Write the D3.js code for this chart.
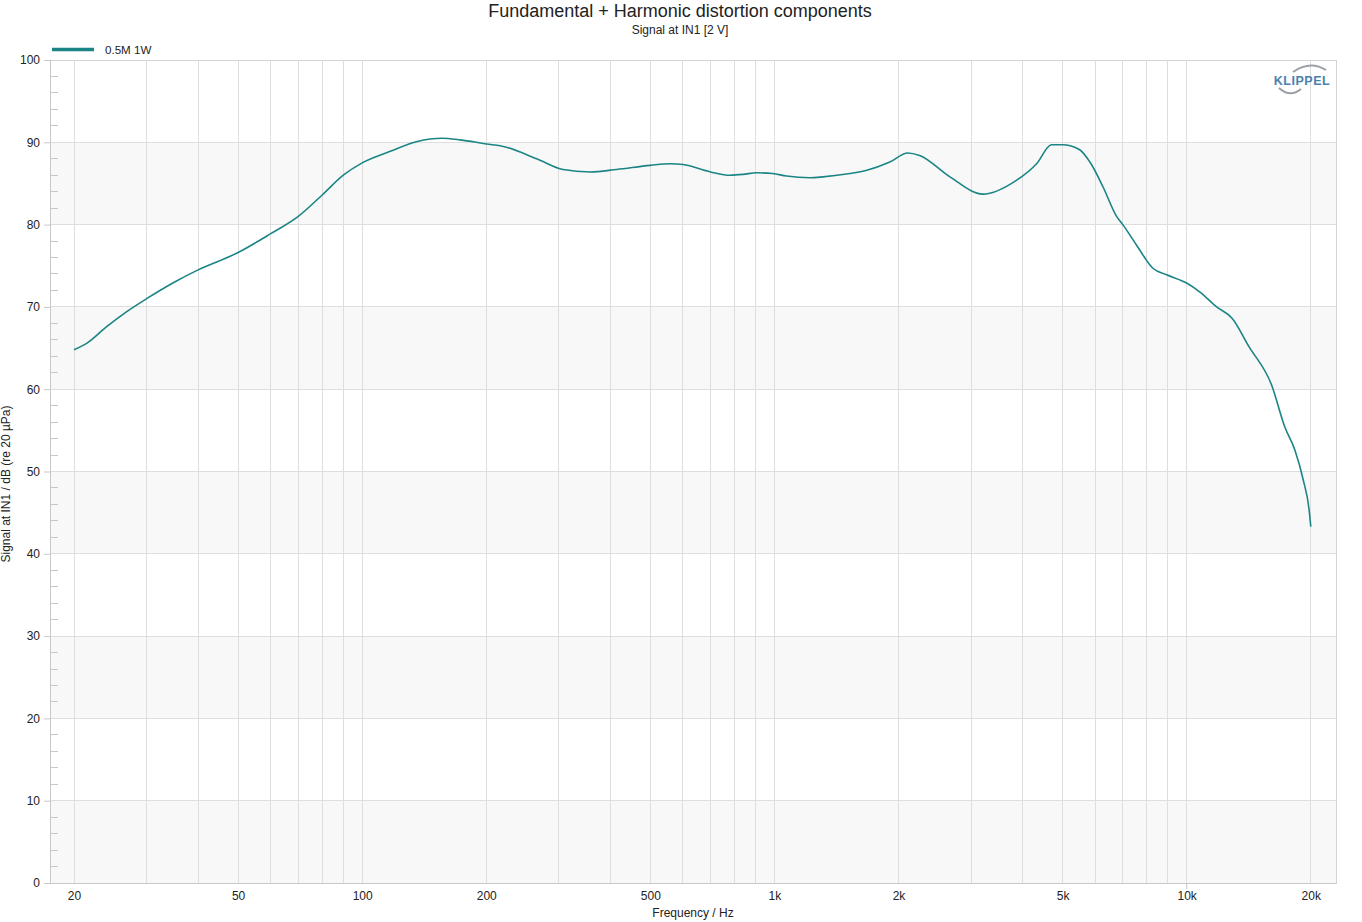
<!DOCTYPE html>
<html><head><meta charset="utf-8">
<script src="https://cdn.jsdelivr.net/npm/d3@7"></script>
<style>body{margin:0;background:#fff;font-family:"Liberation Sans",Arial,sans-serif;}</style>
</head><body>
<svg id="chart" width="1362" height="922"></svg>
<script>
const freqs = [20,21.5,24,26.8,30,35,40,50,60,70,80,90,100,117,136,156,173,200,220,265,307,357,414,500,558,600,700,780,840,905,990,1070,1220,1310,1525,1675,1905,2105,2250,2665,3200,3870,4325,4700,5000,5500,5825,6265,6760,7000,7560,8280,8940,10000,10770,11820,12900,14150,16070,17300,18300,19170,19820,20000];
const levels = [64.8,65.6,67.6,69.4,71.0,73.0,74.5,76.6,78.9,81.0,83.6,86.0,87.5,88.9,90.1,90.5,90.3,89.8,89.5,88.0,86.7,86.4,86.7,87.2,87.4,87.3,86.4,86.0,86.1,86.3,86.2,85.9,85.7,85.8,86.2,86.6,87.6,88.7,88.4,85.8,83.7,85.4,87.4,89.7,89.7,89.1,87.6,84.6,81.0,80.0,77.5,74.7,73.9,72.9,71.8,70.0,68.6,65.2,60.5,55.4,52.6,49.0,45.3,43.3];
const xTickValues = [20,50,100,200,500,1000,2000,5000,10000,20000];
const xTickLabels = ["20","50","100","200","500","1k","2k","5k","10k","20k"];
const yTickValues = [0,10,20,30,40,50,60,70,80,90,100];
const seriesName = "0.5M 1W";
const title = "Fundamental + Harmonic distortion components";
const subtitle = "Signal at IN1 [2 V]";
const xLabel = "Frequency / Hz";
const yLabel = "Signal at IN1 / dB (re 20 µPa)";

const svg = d3.select("#chart");
const L = 50, R = 1336.5, T = 60, B = 883;
const x = d3.scaleLog().domain([17.49, 23090]).range([L, R]);
const y = d3.scaleLinear().domain([0, 100]).range([B, T]);
const lineColor = "#1b8585";

// bands
const bands = [[80,90],[60,70],[40,50],[20,30],[0,10]];
svg.append("g").selectAll("rect").data(bands).join("rect")
  .attr("x", L).attr("width", R - L)
  .attr("y", d => y(d[1])).attr("height", d => y(d[0]) - y(d[1]))
  .attr("fill", "#f8f8f8");

// vertical grid
const gridF = [];
[10,100,1000].forEach(dec => { for (let k=1;k<10;k++){ const f=dec*k; if (f>=20) gridF.push(f);} });
gridF.push(10000, 20000);
svg.append("g").selectAll("line").data(gridF).join("line")
  .attr("x1", d => x(d)).attr("x2", d => x(d)).attr("y1", T).attr("y2", B)
  .attr("stroke", "#dedede").attr("stroke-width", 1).attr("shape-rendering","crispEdges");

// horizontal grid
svg.append("g").selectAll("line").data(yTickValues).join("line")
  .attr("x1", L).attr("x2", R).attr("y1", d => y(d)).attr("y2", d => y(d))
  .attr("stroke", "#dedede").attr("shape-rendering","crispEdges");

// border
svg.append("rect").attr("x", L).attr("y", T).attr("width", R-L).attr("height", B-T)
  .attr("fill","none").attr("stroke","#d4d4d4").attr("shape-rendering","crispEdges");
svg.append("line").attr("x1",L).attr("x2",L).attr("y1",T).attr("y2",B).attr("stroke","#c8c8c8").attr("shape-rendering","crispEdges");
svg.append("line").attr("x1",L).attr("x2",R).attr("y1",B).attr("y2",B).attr("stroke","#c8c8c8").attr("shape-rendering","crispEdges");

// minor y ticks
const minor = d3.range(0, 100, 2).filter(v => v % 10 !== 0);
svg.append("g").selectAll("line").data(minor).join("line")
  .attr("x1", L).attr("x2", L + 8).attr("y1", d => y(d)).attr("y2", d => y(d))
  .attr("stroke", "#c8c8c8").attr("shape-rendering","crispEdges");

// y axis
const yAxis = d3.axisLeft(y).tickValues(yTickValues).tickSize(6).tickPadding(4).tickFormat(d3.format("d"));
const gy = svg.append("g").attr("transform", `translate(${L},0)`).call(yAxis);
gy.select(".domain").remove();
gy.selectAll(".tick line").attr("stroke", "#c8c8c8");
gy.selectAll(".tick text").attr("fill", "#222").style("font-size", "12px").style("font-family", "Liberation Sans, Arial, sans-serif");

// x axis
const xAxis = d3.axisBottom(x).tickValues(xTickValues).tickSize(0).tickPadding(8)
  .tickFormat((d,i) => xTickLabels[i]);
const gx = svg.append("g").attr("transform", `translate(0,${B})`).call(xAxis);
gx.select(".domain").remove();
gx.selectAll(".tick text").attr("fill", "#222").style("font-size", "12px").style("font-family", "Liberation Sans, Arial, sans-serif");
svg.append("line").attr("x1", x(10000)).attr("x2", x(10000)).attr("y1", B).attr("y2", B+6).attr("stroke","#c8c8c8");

// curve
const pts = freqs.map((f,i) => [f, levels[i]]);
svg.append("path").datum(pts)
  .attr("d", d3.line().x(d => x(d[0])).y(d => y(d[1])).curve(d3.curveMonotoneX))
  .attr("fill","none").attr("stroke", lineColor).attr("stroke-width", 1.6);

// titles
svg.append("text").attr("x", 680).attr("y", 17).attr("text-anchor","middle")
  .style("font-size","18px").attr("fill","#222").text(title);
svg.append("text").attr("x", 680).attr("y", 34).attr("text-anchor","middle")
  .style("font-size","12px").attr("fill","#222").text(subtitle);
svg.append("text").attr("x", 693).attr("y", 917).attr("text-anchor","middle")
  .style("font-size","12px").attr("fill","#222").text(xLabel);
svg.append("text").attr("transform","translate(10,484) rotate(-90)").attr("text-anchor","middle")
  .style("font-size","12px").attr("fill","#222").text(yLabel);

// legend
svg.append("line").attr("x1",52).attr("x2",94).attr("y1",49.5).attr("y2",49.5)
  .attr("stroke", lineColor).attr("stroke-width", 3.5);
svg.append("text").attr("x",105).attr("y",53.5).style("font-size","11.6px").attr("fill","#222").text(seriesName);

// logo
const logo = svg.append("g");
logo.append("path").attr("d","M1293,72 Q1310,60 1326,70").attr("fill","none").attr("stroke","#9aa0a6").attr("stroke-width",2);
logo.append("text").attr("x",1302).attr("y",85).attr("text-anchor","middle")
  .style("font-size","12.5px").style("font-weight","bold").attr("fill","#4a82ad").attr("letter-spacing","0.5").text("KLIPPEL");
logo.append("path").attr("d","M1279,88 Q1290,98 1301,89").attr("fill","none").attr("stroke","#9aa0a6").attr("stroke-width",2);
</script>
</body></html>
